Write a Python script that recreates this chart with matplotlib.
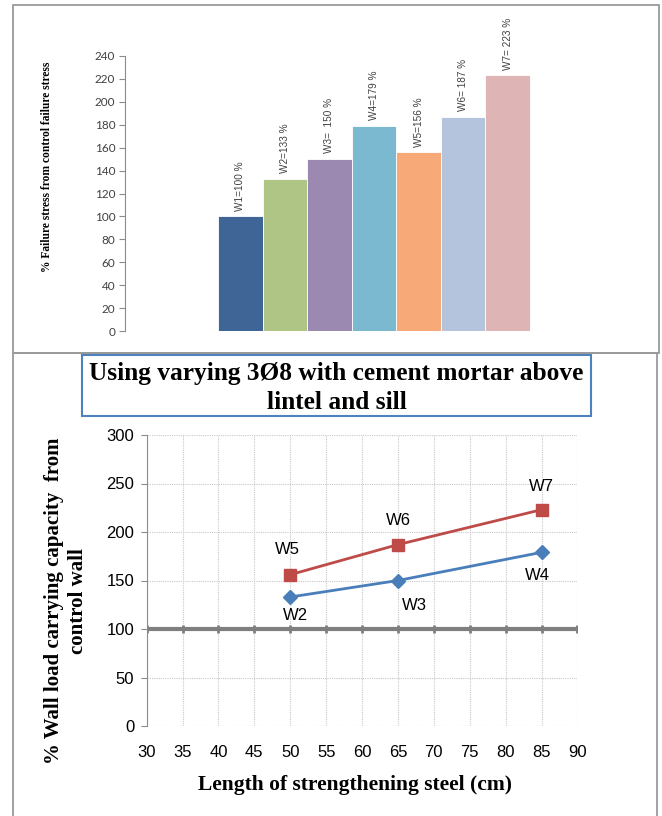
import matplotlib
matplotlib.use("Agg")
import matplotlib.pyplot as plt
from matplotlib.patches import Rectangle

# top chart: bars
walls = ["W1", "W2", "W3", "W4", "W5", "W6", "W7"]
failure_pct = [100, 133, 150, 179, 156, 187, 223]
bar_labels = ["W1=100 %", "W2=133 %", "W3=  150 %", "W4=179 %",
              "W5=156 %", "W6= 187 %", "W7= 223 %"]
bar_colors = ["#3E6596", "#AEC585", "#9C89B2", "#7AB9CF",
              "#F7AA77", "#B4C4DD", "#DFB4B4"]
top_yticks = list(range(0, 241, 20))

# bottom chart: lines
steel_len = [50, 65, 85]
series_a = [133, 150, 179]   # W2, W3, W4
series_b = [156, 187, 223]   # W5, W6, W7
names_a = ["W2", "W3", "W4"]
names_b = ["W5", "W6", "W7"]
x_ticks = list(range(30, 91, 5))
y_ticks = list(range(0, 301, 50))
control = 100

W, H = 662, 816
fig = plt.figure(figsize=(W / 100, H / 100), dpi=100)


def fx(px):
    return px / W


def fy(py):
    return 1 - py / H


# outer frames
for (x0, y0, x1, y1) in [(13, 5, 659, 353), (13, 353, 657, 820)]:
    fig.patches.append(Rectangle((fx(x0), fy(y1)), fx(x1 - x0), (y1 - y0) / H,
                                 transform=fig.transFigure, fill=False,
                                 edgecolor="#9a9a9a", lw=1.3))

# ---- top bar chart
ax1 = fig.add_axes([fx(125), fy(331), fx(623 - 125), (331 - 56) / H])
pos = list(range(len(walls)))
ax1.bar(pos, failure_pct, width=1.0, color=bar_colors, edgecolor="white", linewidth=0.6)
for p, v, t in zip(pos, failure_pct, bar_labels):
    ax1.text(p, v + 5, t, rotation=90, ha="center", va="bottom", fontsize=7.2,
             family="Liberation Sans", color="#404040")
ax1.set_xlim(-2.587, 8.587)
ax1.set_ylim(0, 240)
ax1.set_yticks(top_yticks)
ax1.set_xticks([])
for s in ["top", "right", "bottom"]:
    ax1.spines[s].set_visible(False)
ax1.spines["left"].set_color("#8c8c8c")
ax1.tick_params(axis="y", length=4, color="#8c8c8c", labelsize=8.5,
                labelcolor="#404040", pad=3)
for lab in ax1.get_yticklabels():
    lab.set_family("Lato")
fig.text(fx(47), fy(167), "% Failure stress from control failure stress", rotation=90,
         ha="center", va="center", fontsize=8.3, fontweight="bold", family="Liberation Serif")

# ---- bottom line chart
ax2 = fig.add_axes([fx(146.7), fy(726), fx(577.4 - 146.7), (726 - 435) / H])
ax2.set_xlim(30, 90)
ax2.set_ylim(0, 300)
ax2.set_xticks(x_ticks)
ax2.set_yticks(y_ticks)
ax2.grid(True, color="#c8c8c8", linestyle=(0, (1, 1)), linewidth=0.8)
for s in ["top", "right", "bottom"]:
    ax2.spines[s].set_visible(False)
ax2.spines["left"].set_color("#8c8c8c")
ax2.tick_params(axis="x", length=0, pad=14, labelsize=12)
ax2.tick_params(axis="y", length=4, color="#8c8c8c", labelsize=12, pad=5)
for lab in ax2.get_xticklabels() + ax2.get_yticklabels():
    lab.set_family("Liberation Sans")

ax2.axhline(control, color="#7f7f7f", lw=3, zorder=2)
ax2.plot(x_ticks, [control] * len(x_ticks), ls="none", marker="|", ms=6, mew=2,
         color="#7f7f7f", zorder=2)

ax2.plot(steel_len, series_a, color="#4A7EBB", lw=2, marker="D", ms=7.5, zorder=4)
ax2.plot(steel_len, series_b, color="#BE4B48", lw=2, marker="s", ms=9, zorder=4)

offs_b = [(-2, 18), (0, 17), (0, 17)]
offs_a = [(4, -13), (12, -18), (-3, -17)]
for x, y, n, o in zip(steel_len, series_b, names_b, offs_b):
    ax2.annotate(n, (x, y), xytext=o, textcoords="offset points", ha="center",
                 va="center", fontsize=12, family="Liberation Sans")
for x, y, n, o in zip(steel_len, series_a, names_a, offs_a):
    ax2.annotate(n, (x, y), xytext=o, textcoords="offset points", ha="center",
                 va="center", fontsize=12, family="Liberation Sans")

fig.text(fx(355), fy(785), "Length of strengthening steel (cm)", ha="center", va="center",
         fontsize=15.5, fontweight="bold", family="Liberation Serif")
fig.text(fx(66), fy(601), "% Wall load carrying capacity  from\ncontrol wall",
         rotation=90, ha="center", va="center", fontsize=15, fontweight="bold",
         family="Liberation Serif", linespacing=1.3, multialignment="center")

# title box
fig.patches.append(Rectangle((fx(82), fy(416)), fx(591 - 82), (416 - 355) / H,
                             transform=fig.transFigure, fill=False,
                             edgecolor="#4F81BD", lw=1.5))
fig.text(fx(336.5), fy(388), "Using varying 3Ø8 with cement mortar above\nlintel and sill",
         ha="center", va="center", fontsize=18.3, fontweight="bold",
         family="Liberation Serif", linespacing=1.28)

fig.savefig("out.png", dpi=100)
